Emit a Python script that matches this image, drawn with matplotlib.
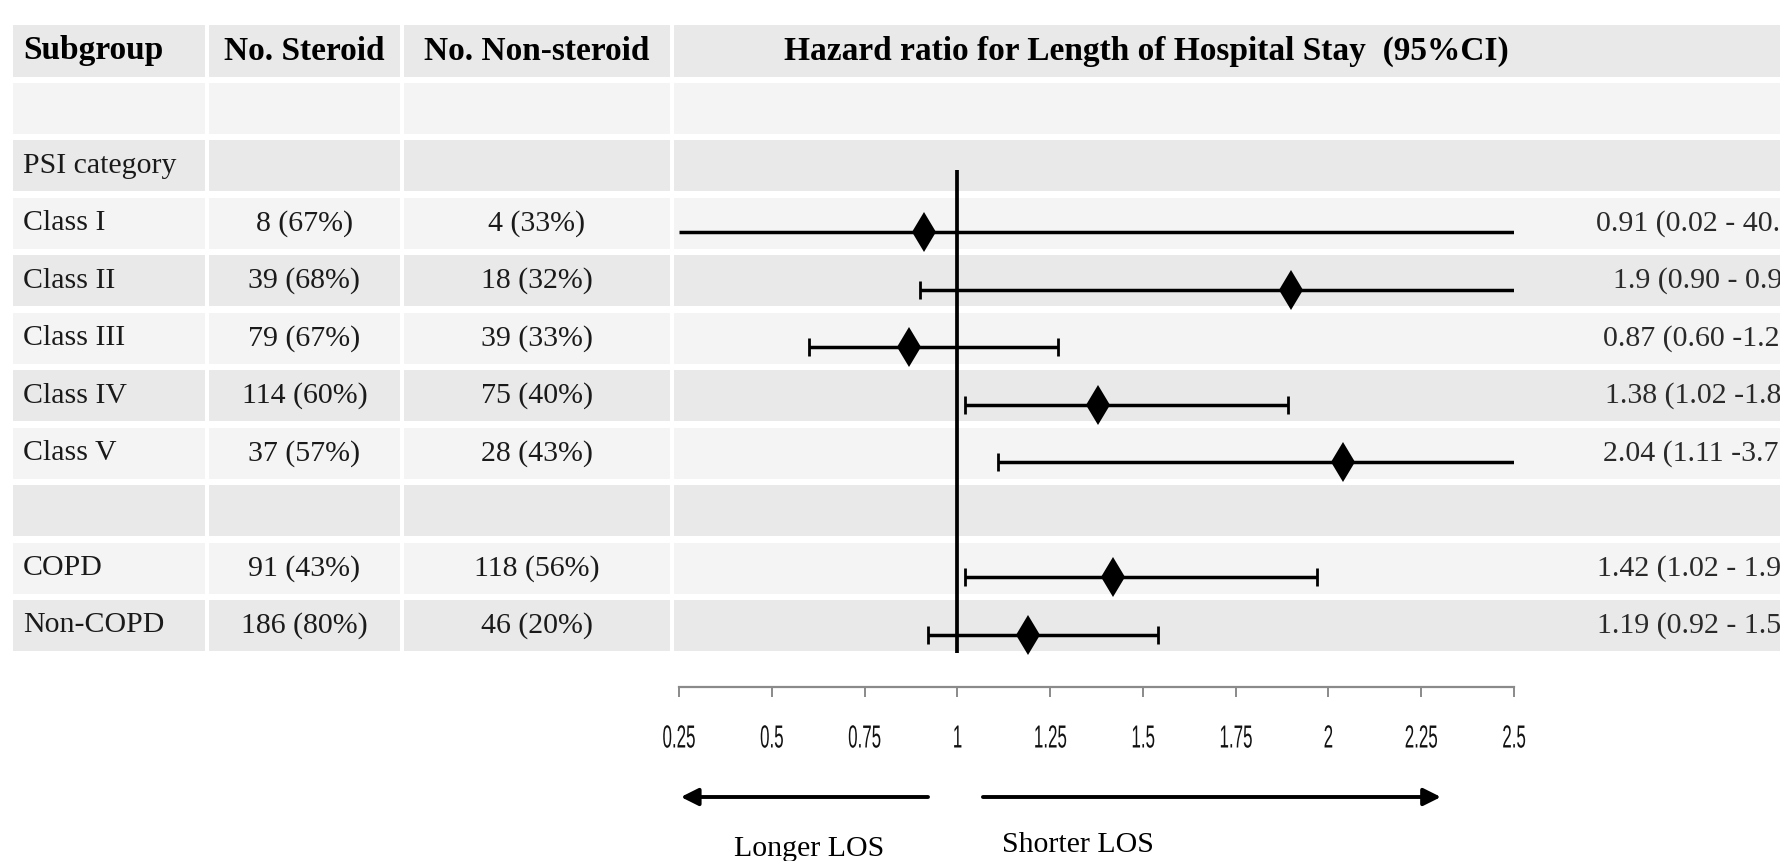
import matplotlib.pyplot as plt
import numpy as np
from matplotlib.patches import Rectangle
from matplotlib.patheffects import AbstractPathEffect
from matplotlib.transforms import Affine2D

# table rows (row 0 of the body is an empty spacer row)
subgroups = ['', 'PSI category', 'Class I', 'Class II', 'Class III', 'Class IV',
             'Class V', '', 'COPD', 'Non-COPD']
n_steroid = ['', '', '8 (67%)', '39 (68%)', '79 (67%)', '114 (60%)', '37 (57%)',
             '', '91 (43%)', '186 (80%)']
n_nonsteroid = ['', '', '4 (33%)', '18 (32%)', '39 (33%)', '75 (40%)', '28 (43%)',
                '', '118 (56%)', '46 (20%)']

# hazard ratios with 95% CI (nan = no estimate on that row)
hr = [np.nan, np.nan, 0.91, 1.90, 0.87, 1.38, 2.04, np.nan, 1.42, 1.19]
ci_low = [np.nan, np.nan, 0.02, 0.90, 0.60, 1.02, 1.11, np.nan, 1.02, 0.92]
ci_high = [np.nan, np.nan, 40.0, 4.0, 1.27, 1.89, 3.7, np.nan, 1.97, 1.54]
# right-hand labels, as far as they are visible (cut by the image edge)
ci_text = ['', '', '0.91 (0.02 - 40.', '1.9 (0.90 - 0.9', '0.87 (0.60 -1.2',
           '1.38 (1.02 -1.8', '2.04 (1.11 -3.7', '', '1.42 (1.02 - 1.9',
           '1.19 (0.92 - 1.5']
ci_text_x = [0, 0, 1596, 1613, 1603, 1605, 1603, 0, 1597, 1597]

headers = ['Subgroup', 'No. Steroid', 'No. Non-steroid',
           'Hazard ratio for Length of Hospital Stay  (95%CI)']

ticks = [0.25, 0.5, 0.75, 1, 1.25, 1.5, 1.75, 2, 2.25, 2.5]
tick_labels = ['0.25', '0.5', '0.75', '1', '1.25', '1.5', '1.75', '2', '2.25', '2.5']

W, H = 1780, 861
SERIF = ['Liberation Serif', 'DejaVu Serif']
FS = 21.5
FS_HEAD = 24

DARK = '#e9e9e9'
LIGHT = '#f4f4f4'

ROW0, PITCH = 51, 57.45     # row centres of the table, pixels
F0 = 60                    # row centres of the forest marks (sit a bit lower)
cols = [(13, 205), (209, 400), (404, 670), (674, 1800)]


class Squeeze(AbstractPathEffect):
    """draw text narrower, keeping it centred"""
    def __init__(self, sx):
        super().__init__()
        self.sx = sx

    def draw_path(self, renderer, gc, tpath, affine, rgbFace=None):
        ext = tpath.get_extents()
        cx = (ext.x0 + ext.x1) / 2
        t = Affine2D().translate(-cx, 0).scale(self.sx, 1).translate(cx, 0) + affine
        renderer.draw_path(gc, tpath, t, rgbFace)


fig = plt.figure(figsize=(W / 100, H / 100), dpi=100)
fig.patch.set_facecolor('white')

# background axes in pixel units for the table
bg = fig.add_axes([0, 0, 1, 1])
bg.set_xlim(0, W)
bg.set_ylim(H, 0)
bg.axis('off')

n_rows = len(subgroups) + 1
for r in range(n_rows):
    yc = ROW0 + PITCH * r
    h = 52 if r == 0 else 51
    color = DARK if (r == 0 or r % 2 == 0) else LIGHT
    for x0, x1 in cols:
        bg.add_patch(Rectangle((x0, yc - h / 2), x1 - x0, h, facecolor=color,
                               edgecolor='none'))

# header
bg.text(23, ROW0, headers[0], family=SERIF, fontsize=FS_HEAD, fontweight='bold',
        ha='left', va='center')
bg.text(sum(cols[1]) / 2, ROW0, headers[1], family=SERIF, fontsize=FS_HEAD,
        fontweight='bold', ha='center', va='center')
bg.text(sum(cols[2]) / 2, ROW0, headers[2], family=SERIF, fontsize=FS_HEAD,
        fontweight='bold', ha='center', va='center')
bg.text(1146, ROW0, headers[3], family=SERIF, fontsize=FS_HEAD, fontweight='bold',
        ha='center', va='center')

for i, (sg, ns, nn) in enumerate(zip(subgroups, n_steroid, n_nonsteroid)):
    yc = ROW0 + PITCH * (i + 1)
    bg.text(23, yc, sg, family=SERIF, fontsize=FS, ha='left', va='center',
            color='#1a1a1a')
    bg.text(sum(cols[1]) / 2, yc, ns, family=SERIF, fontsize=FS, ha='center',
            va='center', color='#1a1a1a')
    bg.text(sum(cols[2]) / 2, yc, nn, family=SERIF, fontsize=FS, ha='center',
            va='center', color='#1a1a1a')
    if ci_text[i]:
        bg.text(ci_text_x[i], yc, ci_text[i], family=SERIF, fontsize=FS,
                ha='left', va='center', color='#2a2a2a')

# forest axes: x in hazard ratio, y in pixels
AX_L, AX_R, AX_B = 679, 1514, 687
fa = fig.add_axes([AX_L / W, (H - AX_B) / H, (AX_R - AX_L) / W, AX_B / H])
fa.set_xlim(0.25, 2.5)
fa.set_ylim(AX_B, 0)
fa.patch.set_alpha(0)
for s in ['top', 'left', 'right']:
    fa.spines[s].set_visible(False)
fa.spines['bottom'].set_color('#8a8a8a')
fa.spines['bottom'].set_linewidth(1.6)
fa.set_yticks([])
fa.set_xticks(ticks)
fa.set_xticklabels(tick_labels, family=['Liberation Sans', 'DejaVu Sans'],
                   fontsize=23, path_effects=[Squeeze(0.53)])
fa.tick_params(axis='x', direction='out', length=7, width=1.4, colors='#8a8a8a',
               labelcolor='#111111', pad=20)

fa.vlines(1, 170, 653, color='black', lw=2.7, zorder=2)

for i in range(len(hr)):
    if np.isnan(hr[i]):
        continue
    y = F0 + PITCH * (i + 1)
    lo = max(ci_low[i], 0.25)
    hi = min(ci_high[i], 2.5)
    fa.hlines(y, lo, hi, color='black', lw=2.5, zorder=3)
    if ci_low[i] > 0.25:
        fa.vlines(ci_low[i], y - 9, y + 9, color='black', lw=2.0, zorder=3)
    if ci_high[i] < 2.5:
        fa.vlines(ci_high[i], y - 9, y + 9, color='black', lw=2.0, zorder=3)
    fa.plot(hr[i], y, marker='d', markersize=20, markeredgewidth=0,
            color='black', zorder=4)

# direction arrows
fa.annotate('', xy=(0.255, 797), xytext=(0.921, 797), annotation_clip=False,
            arrowprops=dict(arrowstyle='-|>', lw=2.8, color='black',
                            mutation_scale=26, shrinkA=0, shrinkB=0))
fa.annotate('', xy=(2.303, 797), xytext=(1.069, 797), annotation_clip=False,
            arrowprops=dict(arrowstyle='-|>', lw=2.8, color='black',
                            mutation_scale=26, shrinkA=0, shrinkB=0))
fa.text(0.60, 836, 'Longer LOS', family=SERIF, fontsize=FS, ha='center',
        va='top', clip_on=False)
fa.text(1.325, 832, 'Shorter LOS', family=SERIF, fontsize=FS, ha='center',
        va='top', clip_on=False)

plt.savefig('out.png', dpi=100)
